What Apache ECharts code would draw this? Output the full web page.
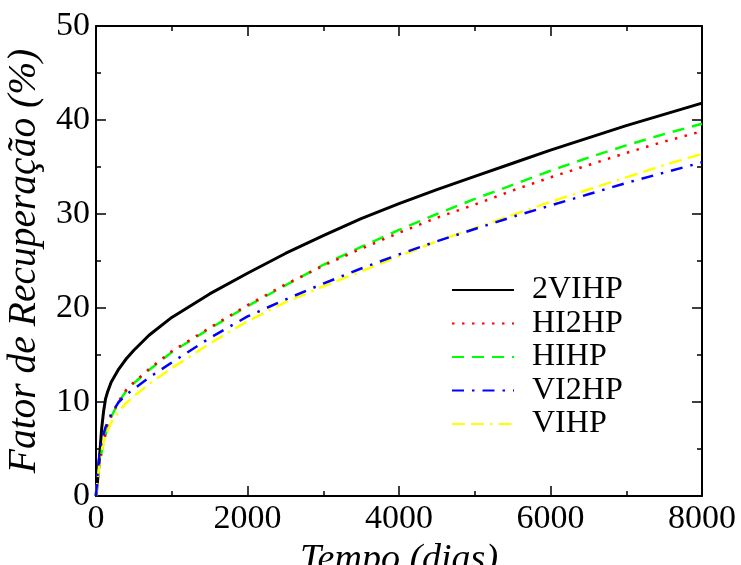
<!DOCTYPE html>
<html>
<head>
<meta charset="utf-8">
<title>Fator de Recuperação</title>
<script src="https://cdn.jsdelivr.net/npm/echarts@6/dist/echarts.min.js"></script>
<style>
  html, body { margin: 0; padding: 0; background: #fff; }
  #chart { width: 741px; height: 565px; }
</style>
</head>
<body>
<div id="chart"></div>
<script>
// Tempo (dias) sampled along each recovery curve
const tempo = [0, 25, 50, 75, 100, 125, 150, 200, 300, 400, 500, 700, 1000, 1500,
  2000, 2500, 3000, 3500, 4000, 4500, 5000, 5500, 6000, 6500, 7000, 7500, 8000];

// Fator de recuperação (%) for each well configuration
const fr2VIHP = [0, 2.0, 4.5, 7.2, 9.0, 10.3, 11.0, 12.1, 13.5, 14.6, 15.5, 17.1, 19.0, 21.5,
  23.7, 25.8, 27.7, 29.5, 31.1, 32.6, 34.0, 35.4, 36.8, 38.1, 39.4, 40.6, 41.8];
const frHI2HP = [0, 2.2, 3.6, 4.8, 5.8, 6.6, 7.3, 8.5, 10.1, 11.3, 12.1, 13.5, 15.4, 17.9,
  20.3, 22.5, 24.5, 26.3, 28.0, 29.6, 31.0, 32.5, 33.9, 35.2, 36.5, 37.7, 38.8];
const frHIHP = [0, 2.1, 3.5, 4.7, 5.7, 6.5, 7.2, 8.4, 10.0, 11.2, 12.0, 13.4, 15.3, 17.8,
  20.2, 22.4, 24.6, 26.5, 28.3, 30.0, 31.6, 33.1, 34.6, 36.0, 37.3, 38.5, 39.6];
const frVI2HP = [0, 2.8, 4.8, 5.8, 6.6, 7.3, 7.8, 8.7, 10.0, 10.8, 11.4, 12.6, 14.2, 16.8,
  19.1, 20.9, 22.6, 24.2, 25.7, 27.1, 28.4, 29.7, 30.9, 32.1, 33.3, 34.4, 35.5];
const frVIHP = [0, 2.0, 3.6, 4.8, 5.7, 6.4, 6.9, 7.8, 9.0, 9.9, 10.6, 11.9, 13.6, 16.2,
  18.6, 20.6, 22.3, 23.9, 25.5, 27.1, 28.5, 29.9, 31.3, 32.6, 33.9, 35.2, 36.4];

const seriesNames = ['2VIHP', 'HI2HP', 'HIHP', 'VI2HP', 'VIHP'];
const xTicks = [0, 2000, 4000, 6000, 8000];
const yTicks = [0, 10, 20, 30, 40, 50];

const FONT = "'Liberation Serif', 'Times New Roman', Times, serif";

function pairs(values) {
  return tempo.map((t, i) => [t, values[i]]);
}

function curve(name, values, color, width, dash) {
  return {
    name: name,
    type: 'line',
    data: pairs(values),
    showSymbol: false,
    symbol: 'none',
    smooth: false,
    lineStyle: { color: color, width: width, type: dash, cap: 'butt', join: 'round' },
    itemStyle: { color: color }
  };
}

function axisParts() {
  return {
    axisLine: { show: true, onZero: false, lineStyle: { color: '#000', width: 2 } },
    axisTick: { show: true, inside: true, length: 10, lineStyle: { color: '#000', width: 1.5 } },
    minorTick: { show: true, splitNumber: 2, length: 5, lineStyle: { color: '#000', width: 1.5 } },
    splitLine: { show: false },
    minorSplitLine: { show: false }
  };
}

const xMin = xTicks[0], xMax = xTicks[xTicks.length - 1];
const yMin = yTicks[0], yMax = yTicks[yTicks.length - 1];
const xStep = xTicks[1] - xTicks[0];
const yStep = yTicks[1] - yTicks[0];

const plainNumber = (v) => String(v);

const chart = echarts.init(document.getElementById('chart'), null, { renderer: 'canvas' });

chart.setOption({
  animation: false,
  backgroundColor: '#fff',
  grid: { left: 96, right: 39, top: 26, bottom: 69, containLabel: false, outerBoundsMode: 'none' },
  legend: {
    orient: 'vertical',
    left: 446,
    top: 269,
    itemWidth: 62,
    itemHeight: 14,
    itemGap: 1.5,
    data: seriesNames,
    itemStyle: { opacity: 0, borderWidth: 0 },
    textStyle: { fontFamily: FONT, fontSize: 32, color: '#000', padding: [0, 0, 0, 13] }
  },
  xAxis: [
    Object.assign({
      type: 'value', min: xMin, max: xMax, interval: xStep,
      position: 'bottom',
      name: 'Tempo (dias)', nameLocation: 'middle', nameGap: 32,
      nameTextStyle: { fontFamily: FONT, fontSize: 38, fontStyle: 'italic', color: '#000' },
      axisLabel: { show: true, margin: 6, fontFamily: FONT, fontSize: 34, color: '#000', formatter: plainNumber }
    }, axisParts()),
    Object.assign({
      type: 'value', min: xMin, max: xMax, interval: xStep,
      position: 'top',
      axisLabel: { show: false }
    }, axisParts())
  ],
  yAxis: [
    Object.assign({
      type: 'value', min: yMin, max: yMax, interval: yStep,
      position: 'left',
      name: 'Fator de Recuperação (%)', nameLocation: 'middle', nameGap: 48,
      nameTextStyle: { fontFamily: FONT, fontSize: 39.5, fontStyle: 'italic', color: '#000' },
      axisLabel: { show: true, margin: 6, fontFamily: FONT, fontSize: 34, color: '#000', formatter: plainNumber }
    }, axisParts()),
    Object.assign({
      type: 'value', min: yMin, max: yMax, interval: yStep,
      position: 'right',
      axisLabel: { show: false }
    }, axisParts())
  ],
  series: [
    curve(seriesNames[0], fr2VIHP, '#000000', 3, 'solid'),
    curve(seriesNames[2], frHIHP, '#00ff00', 2.5, [12, 8]),
    curve(seriesNames[1], frHI2HP, '#ff0000', 2.5, [2.5, 7.5]),
    curve(seriesNames[4], frVIHP, '#ffff00', 2.5, [13, 6, 13, 6, 2.5, 6]),
    curve(seriesNames[3], frVI2HP, '#0000ff', 2.5, [12, 8, 2.5, 8])
  ]
});
</script>
</body>
</html>
